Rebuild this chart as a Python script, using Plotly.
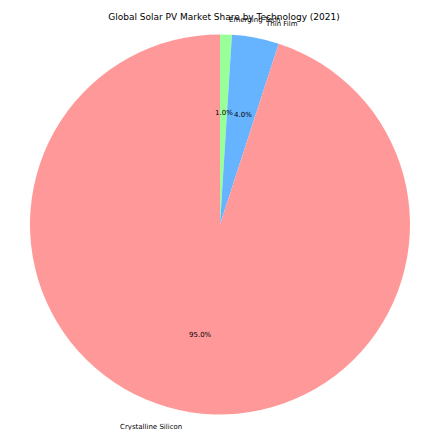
import math
import plotly.graph_objects as go

title = "Global Solar PV Market Share by Technology (2021)"
# listed clockwise from 12 o'clock
labels = ["Emerging Tech", "Thin Film", "Crystalline Silicon"]
values = [1.0, 4.0, 95.0]
colors = ["#99ff99", "#66b3ff", "#ff9999"]

W, H = 422, 430
cx, cy = 220, 224.5          # pie centre in pixels (from top-left)
R = 190                      # pie radius in pixels
rx, ry = 207, 186            # text placement radii (reference stretch)

fig = go.Figure(go.Pie(
    labels=labels, values=values, sort=False, direction="clockwise",
    rotation=0, marker=dict(colors=colors, line=dict(width=0)),
    textinfo="none", hoverinfo="label+percent", showlegend=False,
    domain=dict(x=[(cx - R) / W, (cx + R) / W],
                y=[(H - cy - R) / H, (H - cy + R) / H]),
))

total = sum(values)
annotations = []
cum = 0.0
for lab, v in zip(labels, values):
    mid = 90 - (cum + v / 2) / total * 360
    cum += v
    c, s = math.cos(math.radians(mid)), math.sin(math.radians(mid))
    # percentage at 0.6 radius
    px, py = cx + 0.6 * rx * c, cy - 0.6 * ry * s
    annotations.append(dict(x=px / W, y=1 - py / H, xref="paper", yref="paper",
                            text=f"{v / total * 100:.1f}%", showarrow=False,
                            xanchor="center", yanchor="middle",
                            font=dict(size=7, color="black")))
    # label at 1.1 radius
    lx, ly = cx + 1.1 * rx * c, cy - 1.1 * ry * s
    annotations.append(dict(x=lx / W, y=1 - ly / H, xref="paper", yref="paper",
                            text=lab, showarrow=False,
                            xanchor="left" if c > 0 else "right", yanchor="middle",
                            font=dict(size=7, color="black")))

fig.update_layout(
    width=W, height=H, margin=dict(l=0, r=0, t=0, b=0),
    paper_bgcolor="white", plot_bgcolor="white",
    font=dict(family="DejaVu Sans", color="black"),
    title=dict(text=title, x=224 / W, xanchor="center", y=1 - 17 / H,
               yanchor="middle", font=dict(size=9, color="black")),
    annotations=annotations,
)

fig.write_html("out.html")
